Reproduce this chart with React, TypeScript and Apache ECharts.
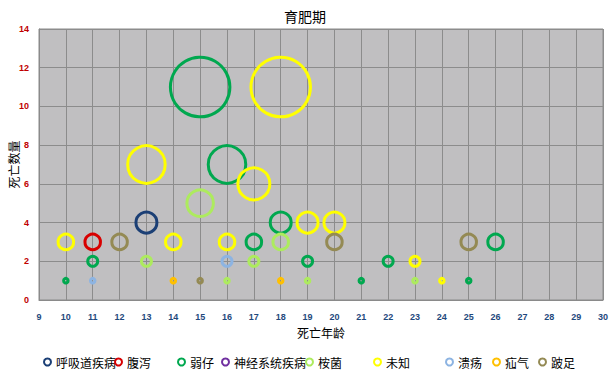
import React, { useEffect, useRef } from "react";
import * as echarts from "echarts";

const seriesNames = ["呼吸道疾病", "腹泻", "弱仔", "神经系统疾病", "桉菌", "未知", "溃疡", "疝气", "跛足"];
const seriesColors = ["#1B3F75", "#D80000", "#00A84F", "#7030A0", "#ADEB5E", "#FFFF00", "#8DB4E2", "#FFC000", "#948A54"];

// [死亡年龄, 死亡数量]
const huxidao: number[][] = [[13, 4]];
const fuxie: number[][] = [[11, 3]];
const ruozai: number[][] = [[15, 11], [16, 7], [18, 4], [17, 3], [26, 3], [11, 2], [19, 2], [22, 2], [10, 1], [21, 1], [25, 1]];
const shenjing: number[][] = [];
const anjun: number[][] = [[15, 5], [18, 3], [13, 2], [17, 2], [16, 1], [19, 1], [23, 1]];
const weizhi: number[][] = [[18, 11], [13, 7], [17, 6], [19, 4], [20, 4], [10, 3], [14, 3], [16, 3], [23, 2], [24, 1]];
const kuiyang: number[][] = [[16, 2], [11, 1]];
const shanqi: number[][] = [[14, 1], [18, 1]];
const bozu: number[][] = [[12, 3], [20, 3], [25, 3], [15, 1]];

const seriesData = [huxidao, fuxie, ruozai, shenjing, anjun, weizhi, kuiyang, shanqi, bozu];

const xTickMin = 9;
const xTickMax = 30;
const yTickMin = 0;
const yTickMax = 14;

const legendIconX = [47, 118, 181, 225, 309, 377, 449, 496, 542];

export default function App() {
  const ref = useRef<HTMLDivElement>(null);
  useEffect(() => {
    if (!ref.current) return;
    const chart = echarts.init(ref.current, null, { renderer: "svg" });
    const cjk = "'Noto Sans CJK SC', sans-serif";
    chart.setOption({
      animation: false,
      backgroundColor: "#ffffff",
      title: {
        text: "育肥期",
        left: "center",
        top: 4,
        textStyle: { fontFamily: cjk, fontSize: 14, fontWeight: "normal", color: "#000" },
      },
      legend: seriesNames.map((n, i) => ({
        data: [n],
        left: legendIconX[i] - 4,
        top: 356,
        itemWidth: 7,
        itemHeight: 7,
        icon: "circle",
        itemStyle: { color: "#ffffff", borderColor: seriesColors[i], borderWidth: 2 },
        textStyle: { fontFamily: cjk, fontSize: 12, color: "#000" },
        padding: 0,
      })),
      grid: {
        left: 39,
        top: 29,
        right: 7,
        bottom: 78,
        containLabel: false,
        outerBoundsMode: "none",
        show: true,
        backgroundColor: "#C0BFC1",
        borderColor: "#8A8A8A",
        borderWidth: 1,
      },
      xAxis: {
        type: "value",
        min: xTickMin,
        max: xTickMax,
        interval: 1,
        name: "死亡年龄",
        nameLocation: "middle",
        nameGap: 26,
        nameMoveOverlap: false,
        nameTextStyle: { fontFamily: cjk, fontSize: 12, color: "#000" },
        axisLine: { show: true, lineStyle: { color: "#8A8A8A" } },
        axisTick: { show: false },
        axisLabel: { margin: 12, fontFamily: "'Liberation Sans', Arial", fontSize: 9, fontWeight: "bold", color: "#1F497D" },
        splitLine: { show: true, lineStyle: { color: "#8C8C8C", width: 1 } },
      },
      yAxis: {
        type: "value",
        min: yTickMin,
        max: yTickMax,
        interval: 2,
        name: "死亡数量",
        nameLocation: "middle",
        nameGap: 20,
        nameMoveOverlap: false,
        nameRotate: 90,
        nameTextStyle: { fontFamily: cjk, fontSize: 12, color: "#000" },
        axisLine: { show: true, lineStyle: { color: "#8A8A8A" } },
        axisTick: { show: false },
        axisLabel: { margin: 10, fontFamily: "'Liberation Sans', Arial", fontSize: 9, fontWeight: "bold", color: "#C00000" },
        splitLine: { show: true, lineStyle: { color: "#8C8C8C", width: 1 } },
      },
      series: seriesNames.map((n, i) => ({
        name: n,
        type: "scatter",
        data: seriesData[i],
        symbol: "circle",
        symbolSize: (v: number[]) => 5.5 * v[1] - 1,
        itemStyle: { color: "rgba(0,0,0,0)", borderColor: seriesColors[i], borderWidth: 3, opacity: 1 },
        emphasis: { disabled: true },
      })),
    });
    return () => chart.dispose();
  }, []);
  return <div ref={ref} style={{ position: "absolute", left: 0, top: 0, width: 610, height: 378 }} />;
}
